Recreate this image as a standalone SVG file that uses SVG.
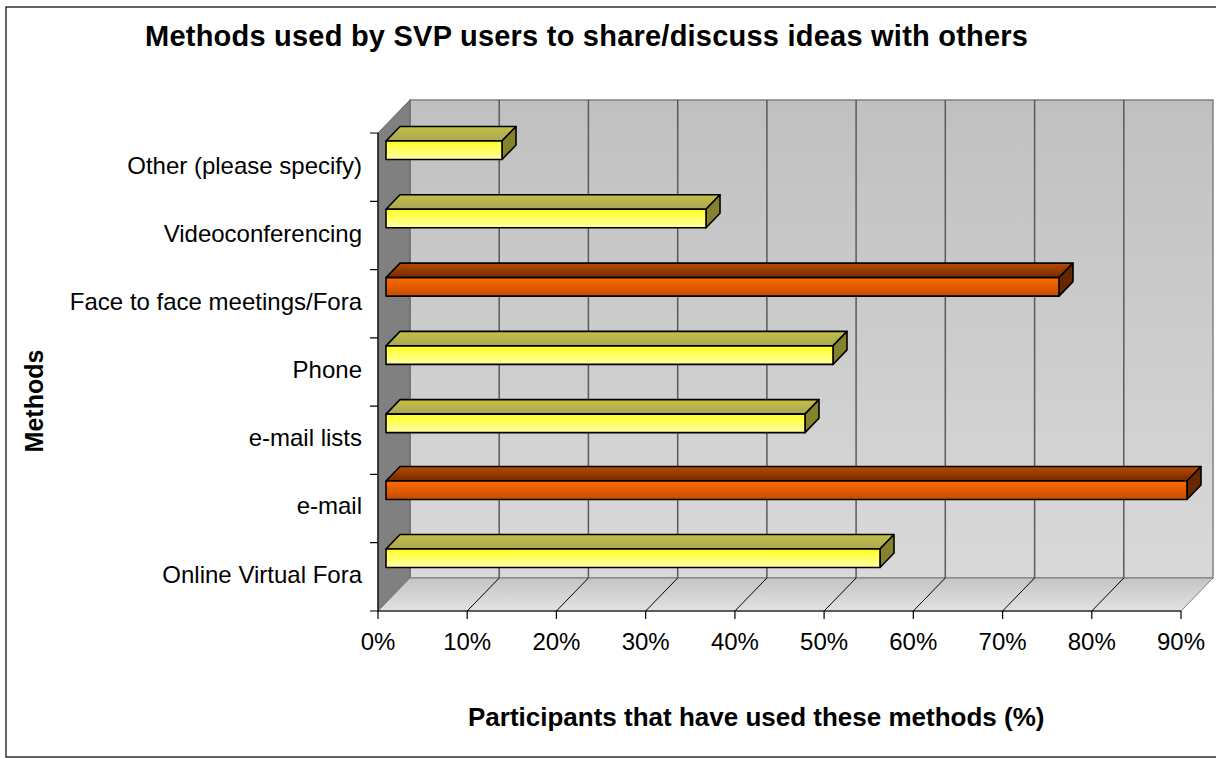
<svg xmlns="http://www.w3.org/2000/svg" width="1216" height="759" viewBox="0 0 1216 759">
<defs>
<linearGradient id="wall" x1="0" y1="0" x2="0" y2="1"><stop offset="0" stop-color="#C0C0C0"/><stop offset="1" stop-color="#D9D9D9"/></linearGradient>
<linearGradient id="floor" x1="0" y1="0" x2="0" y2="1"><stop offset="0" stop-color="#C4C4C4"/><stop offset="1" stop-color="#E2E2E2"/></linearGradient>
<linearGradient id="yFront" x1="0" y1="0" x2="0" y2="1"><stop offset="0" stop-color="#FFFF20"/><stop offset="1" stop-color="#FFFFA8"/></linearGradient>
<linearGradient id="yTop" x1="0" y1="0" x2="0" y2="1"><stop offset="0" stop-color="#C4C040"/><stop offset="1" stop-color="#AAA65A"/></linearGradient>
<linearGradient id="oFront" x1="0" y1="0" x2="0" y2="1"><stop offset="0" stop-color="#FF6A00"/><stop offset="1" stop-color="#C44C00"/></linearGradient>
<linearGradient id="oTop" x1="0" y1="0" x2="0" y2="1"><stop offset="0" stop-color="#B84C00"/><stop offset="1" stop-color="#722A00"/></linearGradient>
</defs>
<style>
text{font-family:"Liberation Sans",Arial,sans-serif;fill:#000}
.title{font-size:29px;font-weight:bold}
.cat{font-size:24px;text-anchor:end}
.tick{font-size:24px;text-anchor:middle}
.axt{font-size:26px;font-weight:bold}
.grid{stroke:#5A5A5A;stroke-width:1.5}
.fl{stroke:#000;stroke-width:1}
.ax{stroke:#000;stroke-width:1.2;fill:none}
.bar{stroke:#000;stroke-width:1.6;stroke-linejoin:round}
.ys{fill:#85822E}
.os{fill:#662600}
</style>
<rect x="6" y="7" width="1220" height="750" fill="#fff" stroke="#000" stroke-width="1.2"/>
<text class="title" x="145" y="46" textLength="883" lengthAdjust="spacing">Methods used by SVP users to share/discuss ideas with others</text>

<g id="plot">
<rect x="410" y="100" width="803" height="478" fill="url(#wall)" stroke="#808080" stroke-width="1.5"/>
<polygon points="378,133 410,100 410,578 378,611" fill="#808080" stroke="#606060" stroke-width="1"/>
<polygon points="378,611 410,578 1213,578 1181,611" fill="url(#floor)" stroke="#808080" stroke-width="1"/>
<g class="grid">
<line x1="499.2" y1="100" x2="499.2" y2="578"/>
<line x1="588.4" y1="100" x2="588.4" y2="578"/>
<line x1="677.7" y1="100" x2="677.7" y2="578"/>
<line x1="766.9" y1="100" x2="766.9" y2="578"/>
<line x1="856.1" y1="100" x2="856.1" y2="578"/>
<line x1="945.3" y1="100" x2="945.3" y2="578"/>
<line x1="1034.6" y1="100" x2="1034.6" y2="578"/>
<line x1="1123.8" y1="100" x2="1123.8" y2="578"/>
</g>
<g class="fl">
<line x1="467.2" y1="611" x2="499.2" y2="578"/>
<line x1="556.4" y1="611" x2="588.4" y2="578"/>
<line x1="645.7" y1="611" x2="677.7" y2="578"/>
<line x1="734.9" y1="611" x2="766.9" y2="578"/>
<line x1="824.1" y1="611" x2="856.1" y2="578"/>
<line x1="913.3" y1="611" x2="945.3" y2="578"/>
<line x1="1002.6" y1="611" x2="1034.6" y2="578"/>
<line x1="1091.8" y1="611" x2="1123.8" y2="578"/>
</g>
</g>

<g id="axes">
<path class="ax" d="M378,133 V611 M370,133 H378 M370,201.3 H378 M370,269.6 H378 M370,337.9 H378 M370,406.1 H378 M370,474.4 H378 M370,542.7 H378 M370,611 H378"/>
<path class="ax" d="M378,611 H1181 M378,611 V619 M467.2,611 V619 M556.4,611 V619 M645.7,611 V619 M734.9,611 V619 M824.1,611 V619 M913.3,611 V619 M1002.6,611 V619 M1091.8,611 V619 M1181,611 V619"/>
</g>

<g id="bar-other" class="bar">
<polygon points="386,141 400,126.5 516,126.5 502,141" fill="url(#yTop)"/>
<polygon class="ys" points="502,141 516,126.5 516,145 502,159.5"/>
<rect x="386" y="141" width="116" height="18.5" fill="url(#yFront)"/>
</g>
<g id="bar-video" class="bar">
<polygon points="386,209.3 400,194.8 720,194.8 706,209.3" fill="url(#yTop)"/>
<polygon class="ys" points="706,209.3 720,194.8 720,213.3 706,227.8"/>
<rect x="386" y="209.3" width="320" height="18.5" fill="url(#yFront)"/>
</g>
<g id="bar-face" class="bar">
<polygon points="386,277.6 400,263.1 1073,263.1 1059,277.6" fill="url(#oTop)"/>
<polygon class="os" points="1059,277.6 1073,263.1 1073,281.6 1059,296.1"/>
<rect x="386" y="277.6" width="673" height="18.5" fill="url(#oFront)"/>
</g>
<g id="bar-phone" class="bar">
<polygon points="386,345.9 400,331.4 847,331.4 833,345.9" fill="url(#yTop)"/>
<polygon class="ys" points="833,345.9 847,331.4 847,349.9 833,364.4"/>
<rect x="386" y="345.9" width="447" height="18.5" fill="url(#yFront)"/>
</g>
<g id="bar-lists" class="bar">
<polygon points="386,414.1 400,399.6 819,399.6 805,414.1" fill="url(#yTop)"/>
<polygon class="ys" points="805,414.1 819,399.6 819,418.1 805,432.6"/>
<rect x="386" y="414.1" width="419" height="18.5" fill="url(#yFront)"/>
</g>
<g id="bar-email" class="bar">
<polygon points="386,481 400,466.5 1201,466.5 1187,481" fill="url(#oTop)"/>
<polygon class="os" points="1187,481 1201,466.5 1201,485 1187,499.5"/>
<rect x="386" y="481" width="801" height="18.5" fill="url(#oFront)"/>
</g>
<g id="bar-online" class="bar">
<polygon points="386,549 400,534.5 894,534.5 880,549" fill="url(#yTop)"/>
<polygon class="ys" points="880,549 894,534.5 894,553 880,567.5"/>
<rect x="386" y="549" width="494" height="18.5" fill="url(#yFront)"/>
</g>

<g id="labels">
<text class="cat" x="362" y="173.5">Other (please specify)</text>
<text class="cat" x="362" y="241.8">Videoconferencing</text>
<text class="cat" x="362" y="310">Face to face meetings/Fora</text>
<text class="cat" x="362" y="377.5">Phone</text>
<text class="cat" x="362" y="445.5">e-mail lists</text>
<text class="cat" x="362" y="514">e-mail</text>
<text class="cat" x="362" y="582.5">Online Virtual Fora</text>
<text class="tick" x="378" y="650">0%</text>
<text class="tick" x="467.2" y="650">10%</text>
<text class="tick" x="556.4" y="650">20%</text>
<text class="tick" x="645.7" y="650">30%</text>
<text class="tick" x="734.9" y="650">40%</text>
<text class="tick" x="824.1" y="650">50%</text>
<text class="tick" x="913.3" y="650">60%</text>
<text class="tick" x="1002.6" y="650">70%</text>
<text class="tick" x="1091.8" y="650">80%</text>
<text class="tick" x="1181" y="650">90%</text>
<text class="axt" x="468" y="726">Participants that have used these methods (%)</text>
<text class="axt" transform="translate(43,401) rotate(-90)" text-anchor="middle" style="font-size:25px">Methods</text>
</g>
</svg>
